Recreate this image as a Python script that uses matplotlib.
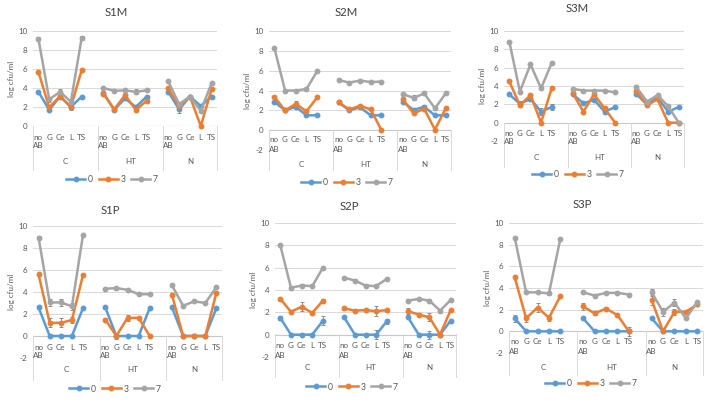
import numpy as np
import matplotlib
matplotlib.use("Agg")
import matplotlib.pyplot as plt
from matplotlib.lines import Line2D

plt.rcParams['font.family'] = ['Lato', 'DejaVu Sans']

W, H = 708, 404

groups = ["C", "HT", "N"]
treatments = ["no\nAB", "G", "Ce", "L", "TS"]
series_names = ["0", "3", "7"]
colors = ["#5B9BD5", "#ED7D31", "#A5A5A5"]

# values: C(noAB,G,Ce,L,TS), HT(...), N(...)
s1m_0 = [3.6, 1.7, 3.1, 2.0, 3.1,   3.5, 1.7, 2.9, 2.0, 3.1,   3.6, 1.75, 3.1, 2.1, 3.1]
s1m_3 = [5.7, 1.95, 3.15, 2.0, 5.9, 3.4, 1.75, 3.25, 1.7, 2.65, 3.95, 2.1, 3.1, 0.0, 3.85]
s1m_7 = [9.2, 2.8, 3.6, 2.55, 9.3,  4.0, 3.7, 3.75, 3.6, 3.75,  4.7, 2.3, 3.1, 1.6, 4.5]
s1m_0_err = [0.1, 0.15, 0.1, 0.3, 0.1, 0.1, 0.1, 0.1, 0.1, 0.1, 0.1, 0.4, 0.1, 0.1, 0.1]
s1m_3_err = [0.1, 0.1, 0.1, 0.2, 0.15, 0.1, 0.1, 0.1, 0.1, 0.1, 0.1, 0.1, 0.1, 0.0, 0.1]
s1m_7_err = [0.15, 0.3, 0.25, 0.3, 0.2, 0.15, 0.1, 0.15, 0.25, 0.1, 0.1, 0.1, 0.1, 0.1, 0.1]

s2m_0 = [2.85, 2.0, 2.35, 1.5, 1.5,  2.8, 2.0, 2.3, 1.5, 1.5,   2.85, 2.05, 2.35, 1.5, 1.5]
s2m_3 = [3.35, 2.0, 2.65, 1.9, 3.3,  2.8, 2.1, 2.45, 2.1, 0.0,  3.1, 1.7, 2.15, 0.05, 2.2]
s2m_7 = [8.3, 4.0, 4.0, 4.15, 5.95,  5.05, 4.8, 5.0, 4.85, 4.9, 3.65, 3.25, 3.7, 2.2, 3.7]
s2m_0_err = [0.1, 0.1, 0.1, 0.1, 0.1, 0.2, 0.1, 0.1, 0.1, 0.1, 0.1, 0.1, 0.15, 0.1, 0.1]
s2m_3_err = [0.1, 0.1, 0.25, 0.1, 0.1, 0.1, 0.1, 0.1, 0.1, 0.0, 0.1, 0.1, 0.1, 0.0, 0.1]
s2m_7_err = [0.1, 0.1, 0.1, 0.1, 0.1, 0.1, 0.1, 0.1, 0.1, 0.1, 0.1, 0.25, 0.1, 0.1, 0.1]

s3m_0 = [3.1, 2.05, 2.6, 1.2, 1.7,   3.1, 2.1, 2.5, 1.2, 1.7,   3.1, 2.0, 2.75, 1.2, 1.7]
s3m_3 = [4.5, 1.9, 3.0, 0.0, 3.75,   3.2, 1.2, 3.1, 1.55, 0.0,  3.5, 1.9, 2.55, 0.0, 0.0]
s3m_7 = [8.85, 3.4, 6.35, 3.75, 6.5, 3.7, 3.5, 3.5, 3.5, 3.3,   3.9, 2.3, 3.0, 1.8, 0.0]
s3m_0_err = [0.1, 0.3, 0.1, 0.35, 0.3, 0.1, 0.1, 0.1, 0.1, 0.1, 0.1, 0.1, 0.1, 0.1, 0.1]
s3m_3_err = [0.1, 0.1, 0.1, 0.0, 0.1, 0.1, 0.1, 0.1, 0.1, 0.0, 0.1, 0.1, 0.1, 0.0, 0.0]
s3m_7_err = [0.1, 0.1, 0.1, 0.1, 0.1, 0.1, 0.1, 0.1, 0.1, 0.1, 0.2, 0.1, 0.1, 0.1, 0.0]

s1p_0 = [2.6, 0.0, 0.0, 0.0, 2.55,   2.6, 0.0, 0.0, 0.0, 2.55,  2.6, 0.0, 0.0, 0.0, 2.55]
s1p_3 = [5.6, 1.2, 1.2, 1.45, 5.55,  1.5, 0.0, 1.65, 1.65, 0.0, 3.75, 0.0, 0.0, 0.0, 3.95]
s1p_7 = [8.95, 3.05, 3.05, 2.7, 9.2, 4.3, 4.35, 4.2, 3.8, 3.8,  4.6, 2.75, 3.15, 3.0, 4.45]
s1p_0_err = [0.1, 0.0, 0.0, 0.0, 0.1, 0.1, 0.0, 0.0, 0.0, 0.1, 0.1, 0.0, 0.0, 0.0, 0.1]
s1p_3_err = [0.1, 0.4, 0.4, 0.3, 0.1, 0.1, 0.3, 0.25, 0.1, 0.0, 0.1, 0.0, 0.0, 0.0, 0.1]
s1p_7_err = [0.1, 0.3, 0.3, 0.3, 0.1, 0.1, 0.15, 0.1, 0.1, 0.1, 0.1, 0.1, 0.1, 0.1, 0.1]

s2p_0 = [1.5, 0.0, 0.0, 0.0, 1.25,   1.55, 0.0, 0.0, 0.0, 1.2,  1.55, 0.0, 0.0, 0.0, 1.25]
s2p_3 = [3.2, 2.05, 2.5, 1.95, 3.05, 2.35, 2.15, 2.2, 2.1, 2.2, 2.1, 1.8, 1.55, 0.0, 2.2]
s2p_7 = [8.0, 4.2, 4.4, 4.35, 6.0,   5.1, 4.85, 4.4, 4.35, 5.0, 3.05, 3.2, 3.05, 2.15, 3.1]
s2p_0_err = [0.2, 0.0, 0.0, 0.0, 0.4, 0.1, 0.0, 0.0, 0.4, 0.2, 0.1, 0.0, 0.35, 0.0, 0.1]
s2p_3_err = [0.1, 0.1, 0.4, 0.1, 0.1, 0.1, 0.1, 0.1, 0.45, 0.1, 0.25, 0.1, 0.35, 0.0, 0.1]
s2p_7_err = [0.1, 0.1, 0.1, 0.1, 0.1, 0.1, 0.1, 0.1, 0.1, 0.1, 0.15, 0.1, 0.1, 0.1, 0.1]

s3p_0 = [1.2, 0.0, 0.0, 0.0, 0.0,    1.2, 0.0, 0.0, 0.0, 0.0,   1.2, 0.0, 0.0, 0.0, 0.0]
s3p_3 = [5.0, 1.2, 2.2, 1.25, 3.25,  2.3, 1.65, 2.1, 1.5, 0.0,  2.9, 0.0, 1.8, 1.8, 2.5]
s3p_7 = [8.65, 3.6, 3.6, 3.5, 8.55,  3.6, 3.3, 3.55, 3.55, 3.4, 3.6, 1.8, 2.65, 1.2, 2.7]
s3p_0_err = [0.35, 0.0, 0.0, 0.0, 0.0, 0.1, 0.0, 0.0, 0.0, 0.0, 0.1, 0.0, 0.0, 0.0, 0.0]
s3p_3_err = [0.1, 0.35, 0.4, 0.3, 0.1, 0.3, 0.1, 0.15, 0.1, 0.4, 0.45, 0.0, 0.3, 0.1, 0.1]
s3p_7_err = [0.1, 0.1, 0.1, 0.1, 0.1, 0.1, 0.1, 0.1, 0.1, 0.1, 0.35, 0.4, 0.3, 0.1, 0.1]

panels = [
    ("S1M", (s1m_0, s1m_3, s1m_7), (s1m_0_err, s1m_3_err, s1m_7_err),
     dict(L=33, R=217, T=31, B=126, ymin=0, Y0=126, r1=137, r2=146, g=162, sb=170, lx=112, ly=180, tx=116, ty=13)),
    ("S2M", (s2m_0, s2m_3, s2m_7), (s2m_0_err, s2m_3_err, s2m_7_err),
     dict(L=269, R=451, T=31, B=150, ymin=-2, Y0=130, r1=140, r2=149, g=165, sb=170, lx=347, ly=183, tx=346, ty=13)),
    ("S3M", (s3m_0, s3m_3, s3m_7), (s3m_0_err, s3m_3_err, s3m_7_err),
     dict(L=504, R=684, T=31, B=141, ymin=-2, Y0=123, r1=133, r2=142, g=157, sb=167, lx=578, ly=175, tx=577, ty=8)),
    ("S1P", (s1p_0, s1p_3, s1p_7), (s1p_0_err, s1p_3_err, s1p_7_err),
     dict(L=33, R=222, T=226, B=358, ymin=-2, Y0=336, r1=347, r2=356, g=369, sb=380, lx=115, ly=389, tx=110, ty=210)),
    ("S2P", (s2p_0, s2p_3, s2p_7), (s2p_0_err, s2p_3_err, s2p_7_err),
     dict(L=275, R=456, T=223, B=357, ymin=-2, Y0=334, r1=345, r2=355, g=368, sb=377, lx=352, ly=387, tx=349, ty=207)),
    ("S3P", (s3p_0, s3p_3, s3p_7), (s3p_0_err, s3p_3_err, s3p_7_err),
     dict(L=509, R=703, T=223, B=353, ymin=-2, Y0=331, r1=342, r2=352, g=367, sb=375, lx=591, ly=384, tx=582, ty=205)),
]

fig = plt.figure(figsize=(W / 100, H / 100), dpi=100)

positions = [0, 1, 2, 3, 4, 6, 7, 8, 9, 10, 12, 13, 14, 15, 16]
nslots = 17
grid_c = "#D9D9D9"
text_c = "#595959"
fs = 5.8

def fx(px):
    return px / W

def fy(py):
    return 1 - py / H

for title, data, errs, lay in panels:
    L, R, T, B = lay["L"], lay["R"], lay["T"], lay["B"]
    ax = fig.add_axes([fx(L), fy(B), (R - L) / W, (B - T) / H])
    ax.set_xlim(-0.5, nslots - 0.5)
    ax.set_ylim(lay["ymin"], 10)
    ticks = list(range(lay["ymin"], 11, 2))
    ax.set_yticks(ticks)
    ax.set_yticklabels([str(t) for t in ticks], fontsize=fs, color=text_c)
    ax.tick_params(axis="y", length=0, pad=4)
    ax.set_xticks([])
    for sp in ax.spines.values():
        sp.set_visible(False)
    for t in ticks:
        ax.axhline(t, color=grid_c, lw=0.7, zorder=0)
    ax.axhline(0, color="#C8C8C8", lw=0.8, zorder=0)
    ax.set_ylabel("log cfu/ml", fontsize=fs, color=text_c, labelpad=2)

    for vals, ev, col in zip(data, errs, colors):
        y = np.full(nslots, np.nan)
        e = np.full(nslots, np.nan)
        y[positions] = vals
        e[positions] = ev
        ax.errorbar(np.arange(nslots), y, yerr=e, color=col, lw=1.8, marker="o",
                    markersize=3.2, ecolor="#7F7F7F", elinewidth=0.6, capsize=1.6,
                    capthick=0.6, zorder=3, clip_on=False)

    fig.text(fx(lay["tx"]), fy(lay["ty"]), title, fontsize=8.2, color="#404040",
             ha="center", va="center")

    def xfig(x):
        return fx(L + (x + 0.5) / nslots * (R - L))

    for gi, g in enumerate(groups):
        for ti, tr in enumerate(treatments):
            xi = gi * 6 + ti
            if "\n" in tr:
                a, b = tr.split("\n")
                fig.text(xfig(xi), fy(lay["r1"]), a, fontsize=fs, color=text_c, ha="center", va="center")
                fig.text(xfig(xi), fy(lay["r2"]), b, fontsize=fs, color=text_c, ha="center", va="center")
            else:
                fig.text(xfig(xi), fy(lay["r1"]), tr, fontsize=fs, color=text_c, ha="center", va="center")
        gc = [2.5, 8.5, 14.0][gi]
        fig.text(xfig(gc), fy(lay["g"]), g, fontsize=fs, color=text_c, ha="center", va="center")

    for sx in [-0.5, 5.5, 11.5, 16.5]:
        xf = xfig(sx)
        fig.add_artist(Line2D([xf, xf], [fy(lay["Y0"]), fy(lay["sb"])], color=grid_c, lw=0.7))

    handles = [Line2D([0], [0], color=c, lw=1.8, marker="o", markersize=3.2) for c in colors]
    fig.legend(handles, series_names, loc="center", bbox_to_anchor=(fx(lay["lx"]), fy(lay["ly"])),
               ncol=3, frameon=False, fontsize=fs + 0.4, handlelength=2.2, handletextpad=0.3,
               columnspacing=0.7, labelcolor=text_c, borderpad=0)

fig.savefig("out.png", dpi=100)
